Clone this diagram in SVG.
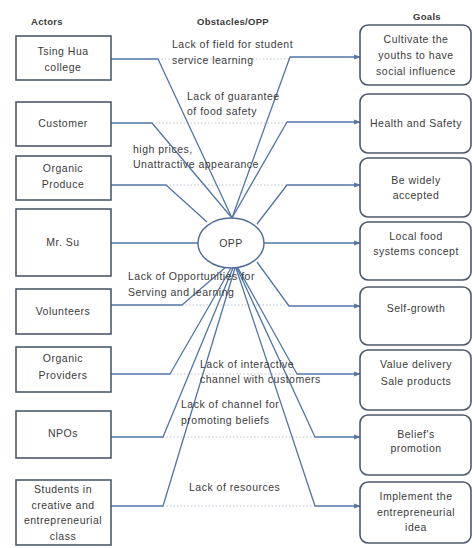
<svg xmlns="http://www.w3.org/2000/svg" width="472" height="548" viewBox="0 0 472 548">
  <style>
    text { font-family: "Liberation Sans", Arial, sans-serif; font-size: 10.5px; letter-spacing: 0.5px; fill: #3b3b3b; }
    .hdr { font-size: 9.5px; font-weight: bold; letter-spacing: 0.3px; text-anchor: middle; }
    .c { text-anchor: middle; }
    .actor { fill: #ffffff; stroke: #4e5a69; stroke-width: 1.6; }
    .goal { fill: #ffffff; stroke: #4e5a69; stroke-width: 1.6; }
    .opp { fill: #ffffff; stroke: #4f6d97; stroke-width: 1.4; }
    .link { fill: none; stroke: #5275a6; stroke-width: 1.3; stroke-linejoin: round; }
    .guide { fill: none; stroke: #b9c4d3; stroke-width: 1; stroke-dasharray: 1.5 2; }
  </style>
  <defs>
    <marker id="arrow" viewBox="0 0 10 10" refX="9" refY="5" markerWidth="5" markerHeight="5" orient="auto">
      <path d="M0,1 L10,5 L0,9 z" fill="#5275a6"/>
    </marker>
  </defs>

  <rect width="472" height="548" fill="#ffffff"/>

  <!-- column headings -->
  <text class="hdr" x="47" y="25">Actors</text>
  <text class="hdr" x="233" y="25">Obstacles/OPP</text>
  <text class="hdr" x="427" y="20">Goals</text>

  <!-- dotted text-row guides -->
  <g id="guides">
    <line class="guide" x1="158" y1="59" x2="290" y2="59"/>
    <line class="guide" x1="152" y1="123" x2="287" y2="123"/>
    <line class="guide" x1="166" y1="185" x2="287" y2="185"/>
    <line class="guide" x1="182" y1="305" x2="289" y2="305"/>
    <line class="guide" x1="170" y1="374" x2="297" y2="374"/>
    <line class="guide" x1="163" y1="437" x2="315" y2="437"/>
    <line class="guide" x1="163" y1="506" x2="315" y2="506"/>
  </g>

  <!-- connectors -->
  <g id="connectors">
    <!-- actors to OPP -->
    <polyline class="link" points="111,59 158,59 232,218"/>
    <polyline class="link" points="111,123 152,123 232,218"/>
    <polyline class="link" points="111,185 166,185 207,222"/>
    <polyline class="link" points="111,243 198,243"/>
    <polyline class="link" points="111,305 182,305 226,267"/>
    <polyline class="link" points="111,374 170,374 231,268"/>
    <polyline class="link" points="111,437 163,437 233,268"/>
    <polyline class="link" points="111,506 163,506 235,268"/>
    <!-- OPP to goals -->
    <polyline class="link" points="232,218 290,57 360,57" marker-end="url(#arrow)"/>
    <polyline class="link" points="232,218 287,122 360,122" marker-end="url(#arrow)"/>
    <polyline class="link" points="257,224 287,185 360,185" marker-end="url(#arrow)"/>
    <polyline class="link" points="264,243 360,243" marker-end="url(#arrow)"/>
    <polyline class="link" points="257,262 289,306 360,306" marker-end="url(#arrow)"/>
    <polyline class="link" points="238,268 297,374 360,374" marker-end="url(#arrow)"/>
    <polyline class="link" points="237,268 315,437 360,437" marker-end="url(#arrow)"/>
    <polyline class="link" points="236,268 315,506 360,506" marker-end="url(#arrow)"/>
  </g>

  <!-- obstacle labels -->
  <g id="obstacles">
    <text x="172" y="48">Lack of field for student</text>
    <text x="172" y="64">service learning</text>
    <text x="187" y="100">Lack of guarantee</text>
    <text x="187" y="115">of food safety</text>
    <text x="133" y="153">high prices,</text>
    <text x="133" y="168">Unattractive appearance</text>
    <text x="128" y="280">Lack of Opportunities for</text>
    <text x="128" y="296">Serving and learning</text>
    <text x="200" y="368">Lack of interactive</text>
    <text x="200" y="383">channel with customers</text>
    <text x="181" y="408">Lack of channel for</text>
    <text x="181" y="424">promoting beliefs</text>
    <text x="189" y="491">Lack of resources</text>
  </g>

  <!-- OPP hub -->
  <g id="opp">
    <ellipse class="opp" cx="231" cy="243" rx="33" ry="25"/>
    <text class="c" x="231" y="247">OPP</text>
  </g>

  <!-- actors -->
  <g id="actor-tsinghua">
    <rect class="actor" x="16" y="36" width="95" height="44"/>
    <text class="c" x="63" y="55">Tsing Hua</text>
    <text class="c" x="63" y="71">college</text>
  </g>
  <g id="actor-customer">
    <rect class="actor" x="16" y="102" width="95" height="44"/>
    <text class="c" x="63" y="127">Customer</text>
  </g>
  <g id="actor-produce">
    <rect class="actor" x="16" y="156" width="95" height="44"/>
    <text class="c" x="63" y="172">Organic</text>
    <text class="c" x="63" y="188">Produce</text>
  </g>
  <g id="actor-mrsu">
    <rect class="actor" x="16" y="209" width="95" height="67"/>
    <text class="c" x="63" y="246">Mr. Su</text>
  </g>
  <g id="actor-volunteers">
    <rect class="actor" x="16" y="289" width="95" height="45"/>
    <text class="c" x="63" y="315">Volunteers</text>
  </g>
  <g id="actor-providers">
    <rect class="actor" x="16" y="347" width="95" height="45"/>
    <text class="c" x="63" y="362">Organic</text>
    <text class="c" x="63" y="379">Providers</text>
  </g>
  <g id="actor-npos">
    <rect class="actor" x="16" y="411" width="95" height="47"/>
    <text class="c" x="63" y="437">NPOs</text>
  </g>
  <g id="actor-students">
    <rect class="actor" x="16" y="480" width="95" height="65"/>
    <text class="c" x="63" y="493">Students in</text>
    <text class="c" x="63" y="509">creative and</text>
    <text class="c" x="63" y="524">entrepreneurial</text>
    <text class="c" x="63" y="540">class</text>
  </g>

  <!-- goals -->
  <g id="goal-cultivate">
    <rect class="goal" x="360" y="25" width="111" height="60" rx="8"/>
    <text class="c" x="416" y="43">Cultivate the</text>
    <text class="c" x="416" y="59">youths to have</text>
    <text class="c" x="416" y="75">social influence</text>
  </g>
  <g id="goal-health">
    <rect class="goal" x="360" y="94" width="111" height="59" rx="8"/>
    <text class="c" x="416" y="127">Health and Safety</text>
  </g>
  <g id="goal-accepted">
    <rect class="goal" x="360" y="158" width="111" height="59" rx="8"/>
    <text class="c" x="416" y="184">Be widely</text>
    <text class="c" x="416" y="199">accepted</text>
  </g>
  <g id="goal-localfood">
    <rect class="goal" x="360" y="222" width="111" height="58" rx="8"/>
    <text class="c" x="416" y="240">Local food</text>
    <text class="c" x="416" y="255">systems concept</text>
  </g>
  <g id="goal-selfgrowth">
    <rect class="goal" x="360" y="287" width="111" height="58" rx="8"/>
    <text class="c" x="416" y="312">Self-growth</text>
  </g>
  <g id="goal-value">
    <rect class="goal" x="360" y="350" width="111" height="60" rx="8"/>
    <text class="c" x="416" y="368">Value delivery</text>
    <text class="c" x="416" y="385">Sale products</text>
  </g>
  <g id="goal-belief">
    <rect class="goal" x="360" y="415" width="111" height="60" rx="8"/>
    <text class="c" x="416" y="438">Belief's</text>
    <text class="c" x="416" y="452">promotion</text>
  </g>
  <g id="goal-implement">
    <rect class="goal" x="360" y="482" width="111" height="61" rx="8"/>
    <text class="c" x="416" y="500">Implement the</text>
    <text class="c" x="416" y="516">entrepreneurial</text>
    <text class="c" x="416" y="531">idea</text>
  </g>
</svg>
